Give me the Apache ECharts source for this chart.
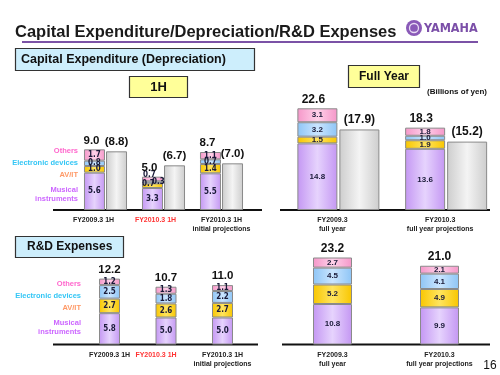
<!DOCTYPE html>
<html>
<head>
<meta charset="utf-8">
<script src="https://cdn.jsdelivr.net/npm/echarts@6/dist/echarts.min.js"></script>
<style>
html,body{margin:0;padding:0;background:#fff;}
#main{width:500px;height:375px;}
</style>
</head>
<body>
<div id="main"></div>
<script>
// categories
var cats1H = ['FY2009.3 1H', 'FY2010.3 1H', 'FY2010.3 1H\ninitial projections'];
var catsFY = ['FY2009.3\nfull year', 'FY2010.3\nfull year projections'];

// capital expenditure, 1H
var capMusical1H = [5.6, 3.3, 5.5];
var capAvit1H = [1.0, 0.7, 1.4];
var capElec1H = [0.8, 0.3, 0.7];
var capOthers1H = [1.7, 0.7, 1.1];
var capTotal1H = [9.0, 5.0, 8.7];
var deprec1H = [8.8, 6.7, 7.0];

// capital expenditure, full year
var capMusicalFY = [14.8, 13.6];
var capAvitFY = [1.5, 1.9];
var capElecFY = [3.2, 1.0];
var capOthersFY = [3.1, 1.8];
var capTotalFY = [22.6, 18.3];
var deprecFY = [17.9, 15.2];

// R&D, 1H
var rdMusical1H = [5.8, 5.0, 5.0];
var rdAvit1H = [2.7, 2.6, 2.7];
var rdElec1H = [2.5, 1.8, 2.2];
var rdOthers1H = [1.2, 1.3, 1.1];
var rdTotal1H = [12.2, 10.7, 11.0];

// R&D, full year
var rdMusicalFY = [10.8, 9.9];
var rdAvitFY = [5.2, 4.9];
var rdElecFY = [4.5, 4.1];
var rdOthersFY = [2.7, 2.1];
var rdTotalFY = [23.2, 21.0];

var NARROW = "'Liberation Sans Narrow','DejaVu Sans Condensed',sans-serif";
var SANS = "'Liberation Sans',Arial,sans-serif";

function grad(c1, c2){
  return new echarts.graphic.LinearGradient(0, 0, 1, 0, [
    {offset:0, color:c1}, {offset:0.5, color:c2}, {offset:1, color:c1}
  ]);
}
var segNames = ['Musical instruments', 'AV/IT', 'Electronic devices', 'Others'];
var segFills = [grad('#c497f3', '#e6d3fd'), grad('#f8c600', '#ffe45e'), grad('#8ec5f6', '#cae5ff'), grad('#f597c9', '#ffd1e9')];

function stackSeries(gi, arrs, totals, barW, font, size, totalSize, totalOffset, tweaks){
  var out = arrs.map(function(arr, k){
    return {
      type:'bar', name:segNames[k], xAxisIndex:gi, yAxisIndex:gi, stack:'s' + gi, barWidth:barW,
      data: arr.map(function(v, i){
        var t = tweaks && tweaks[k] && tweaks[k][i];
        return t ? {value:v, label:t} : v;
      }),
      itemStyle:{color:segFills[k], borderColor:'#8a8a8a', borderWidth:1},
      label:{show:true, position:'inside', fontSize:size, fontWeight:'bold', fontFamily:font, color:'#1a1a38',
        formatter:function(p){ return p.value.toFixed(1); }}
    };
  });
  // zero-height bar on top of the stack carries the total label
  out.push({
    type:'bar', name:'total', xAxisIndex:gi, yAxisIndex:gi, stack:'s' + gi, barWidth:barW,
    data: totals.map(function(){ return 0; }),
    itemStyle:{color:'rgba(0,0,0,0)'},
    label:{show:true, position:'top', distance:3, offset:totalOffset, fontSize:totalSize, fontWeight:'bold', fontFamily:SANS, color:'#111',
      formatter:function(p){ return totals[p.dataIndex].toFixed(1); }}
  });
  return out;
}
function grayBars(gi, arr, barW, size){
  return {
    type:'bar', name:'Depreciation', xAxisIndex:gi, yAxisIndex:gi, barWidth:barW, barGap:'5%',
    data: arr,
    itemStyle:{color:grad('#cdcdcd', '#f4f4f4'), borderColor:'#8a8a8a', borderWidth:1},
    label:{show:true, position:'top', distance:4, fontSize:size, fontWeight:'bold', fontFamily:SANS, color:'#111',
      formatter:function(p){ return '(' + p.value.toFixed(1) + ')'; }}
  };
}
function xAx(gi, items){
  return {
    type:'category', gridIndex:gi, data:items,
    axisLine:{show:false}, axisTick:{show:false},
    axisLabel:{interval:0, fontSize:7, fontWeight:'bold', fontFamily:SANS, color:'#222', margin:6, lineHeight:9}
  };
}
function yAx(gi, max){
  return {type:'value', gridIndex:gi, min:0, max:max, show:false, splitLine:{show:false}};
}

var series = []
  .concat(stackSeries(0, [capMusical1H, capAvit1H, capElec1H, capOthers1H], capTotal1H, 21, NARROW, 8, 11.5, [-3, 0], {
    1:{1:{offset:[-4, -2]}}, 2:{1:{offset:[6, 0]}}, 3:{1:{offset:[-3, -4]}}
  }))
  .concat([grayBars(0, deprec1H, 21, 11.5)])
  .concat(stackSeries(1, [capMusicalFY, capAvitFY, capElecFY, capOthersFY], capTotalFY, 40, SANS, 8, 12, [-4, 0]))
  .concat([grayBars(1, deprecFY, 40, 12)])
  .concat(stackSeries(2, [rdMusical1H, rdAvit1H, rdElec1H, rdOthers1H], rdTotal1H, 21, NARROW, 8, 11.5, [0, 0]))
  .concat(stackSeries(3, [rdMusicalFY, rdAvitFY, rdElecFY, rdOthersFY], rdTotalFY, 39, SANS, 8, 12, [0, 0]));

function txt(x, y, s, font, fill, align){
  return {type:'text', style:{x:x, y:y, text:s, font:font, fill:fill, align:align || 'left', verticalAlign:'middle'}};
}
function box(x, y, w, h, fill){
  return {type:'rect', shape:{x:x, y:y, width:w, height:h}, style:{fill:fill, stroke:'#333', lineWidth:1.2}};
}
function hline(x1, x2, y){
  return {type:'line', shape:{x1:x1, y1:y, x2:x2, y2:y}, style:{stroke:'#111', lineWidth:2}};
}
var legFont = 'bold 7.5px ' + SANS;
var graphics = [
  txt(15, 32, 'Capital Expenditure/Depreciation/R&D Expenses', 'bold 16.5px ' + SANS, '#1a1a1a'),
  {type:'line', shape:{x1:22, y1:42, x2:478, y2:42}, style:{stroke:'#7b52a6', lineWidth:2}},
  {type:'circle', shape:{cx:414, cy:28, r:8}, style:{fill:'#8a5ab8'}},
  {type:'circle', shape:{cx:414, cy:28, r:4.5}, style:{fill:'none', stroke:'#e8dcf4', lineWidth:1.3}},
  txt(424, 28.5, 'YAMAHA', 'bold 12.5px ' + NARROW, '#7b4fa8'),
  box(15.5, 48.5, 239, 22, '#cdeefc'),
  txt(21, 59.5, 'Capital Expenditure (Depreciation)', 'bold 12.5px ' + SANS, '#111'),
  box(129.5, 76.5, 58, 21, '#ffff99'),
  txt(158.5, 87, '1H', 'bold 13px ' + SANS, '#111', 'center'),
  box(348.5, 65.5, 71, 22, '#ffff99'),
  txt(384, 76.5, 'Full Year', 'bold 12px ' + SANS, '#111', 'center'),
  txt(487, 92, '(Billions of yen)', 'bold 8px ' + SANS, '#111', 'right'),
  box(15.5, 236.5, 108, 21, '#cdeefc'),
  txt(27, 247, 'R&D Expenses', 'bold 12px ' + SANS, '#111'),
  txt(78, 151, 'Others', legFont, '#ff66cc', 'right'),
  txt(78, 163, 'Electronic devices', legFont, '#33c6f5', 'right'),
  txt(78, 175, 'AV/IT', legFont, '#ff9966', 'right'),
  txt(78, 190, 'Musical', legFont, '#cc66ff', 'right'),
  txt(78, 198.5, 'instruments', legFont, '#cc66ff', 'right'),
  txt(81, 284, 'Others', legFont, '#ff66cc', 'right'),
  txt(81, 296, 'Electronic devices', legFont, '#33c6f5', 'right'),
  txt(81, 308, 'AV/IT', legFont, '#ff9966', 'right'),
  txt(81, 323, 'Musical', legFont, '#cc66ff', 'right'),
  txt(81, 332, 'instruments', legFont, '#cc66ff', 'right'),
  hline(53, 262, 210),
  hline(280, 490, 210),
  hline(53, 258, 344.5),
  hline(282, 490, 344.5),
  txt(490, 366, '16', '12px ' + SANS, '#111', 'center')
];

var chart = echarts.init(document.getElementById('main'));
chart.setOption({
  animation:false,
  backgroundColor:'#fff',
  grid:[
    {left:76.5, width:174, top:110, bottom:165},
    {left:284.5, width:218, top:75, bottom:165},
    {left:81.25, width:169.5, top:236.5, bottom:30.5},
    {left:279, width:214, top:232, bottom:30.5}
  ],
  xAxis:[
    xAx(0, [{value:cats1H[0], textStyle:{padding:[0, 24, 0, 0]}}, {value:cats1H[1], textStyle:{color:'#ff3333', padding:[0, 16, 0, 0]}}, cats1H[2]]),
    xAx(1, [{value:catsFY[0], textStyle:{padding:[0, 12, 0, 0]}}, {value:catsFY[1], textStyle:{padding:[0, 12, 0, 0]}}]),
    xAx(2, [cats1H[0], {value:cats1H[1], textStyle:{color:'#ff3333', padding:[0, 20, 0, 0]}}, cats1H[2]]),
    xAx(3, catsFY)
  ],
  yAxis:[yAx(0, 15), yAx(1, 30), yAx(2, 20), yAx(3, 30)],
  series:series,
  graphic:graphics
});
</script>
</body>
</html>
